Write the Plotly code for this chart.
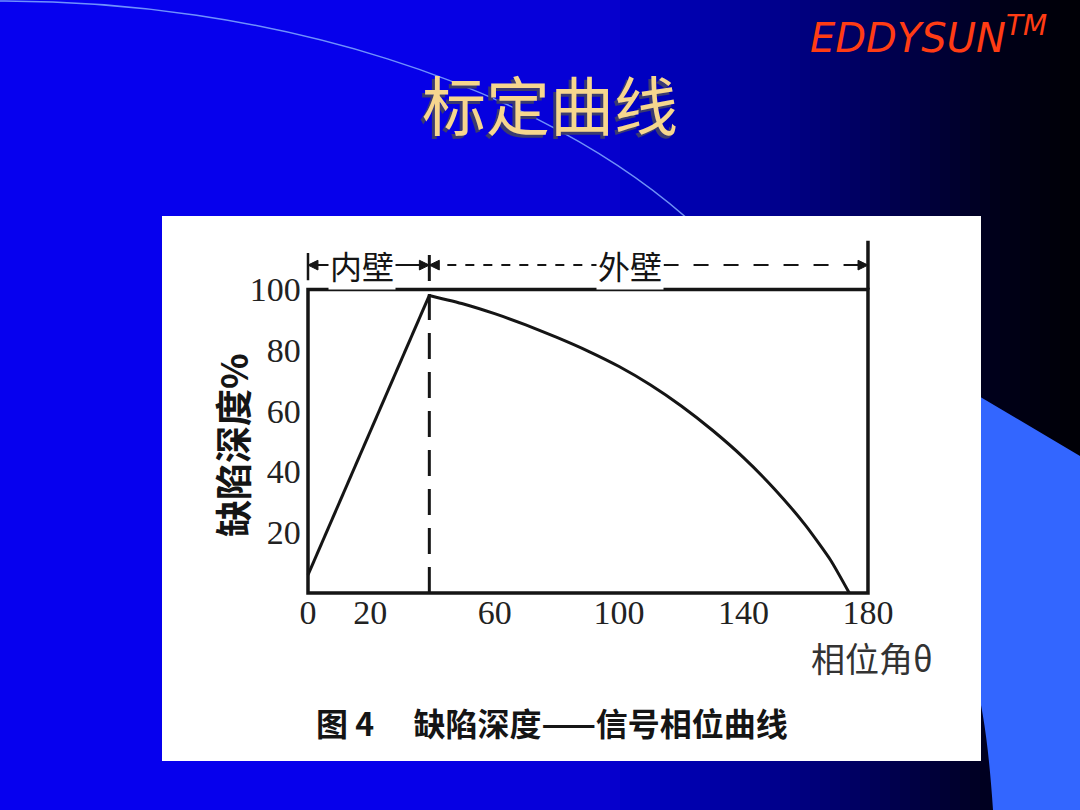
import numpy as np
import plotly.graph_objects as go

W, H = 1080, 810

# values
inner_angle = [0, 39]
inner_depth = [6, 98]
outer_angle = [39, 50, 60, 70, 80, 90, 100, 110, 120, 130, 140, 150, 160, 168, 174]
outer_depth = [98, 95.2, 92, 88.3, 84.2, 79.7, 74.6, 68.6, 61.6, 53.6, 44.6, 34.2, 22.2, 10.8, 0]
x_ticks = [0, 20, 60, 100, 140, 180]
y_ticks = [20, 40, 60, 80, 100]
wall_boundary = 39
x_max, y_max = 180, 100

CJK = "Noto Sans CJK SC"
SERIF = "Liberation Serif"
INK = "#151515"

# pixel placement of the axes inside the white panel
X0, XS = 308, 3.111
Y0, YS = 593, 3.036
XR = [-2, 190]
YR = [-2, 122]


def px(x):
    return x / W


def py(y):
    return 1 - y / H


shapes = []

# slide background: horizontal blue -> black gradient
stops_x = [0, 400, 600, 780, 900, 1000, 1080]
stops_b = [240, 235, 210, 140, 75, 25, 5]
step = 10
for left in range(0, W, step):
    b = int(np.interp(left + step / 2, stops_x, stops_b))
    r = 6 if b > 200 else 0
    shapes.append(dict(type="rect", xref="paper", yref="paper", layer="below",
                       x0=px(left), x1=px(left + step + 1), y0=0, y1=1,
                       line=dict(width=0), fillcolor=f"rgb({r},0,{b})"))

# light-blue decoration on the right
shapes.append(dict(type="path", xref="paper", yref="paper", layer="below",
                   path=(f"M {px(950)},{py(379)} L {px(1080)},{py(456)} L {px(1080)},{py(810)} "
                         f"L {px(993)},{py(810)} Q {px(987)},{py(720)} {px(975)},{py(680)} Z"),
                   line=dict(width=0), fillcolor="#3366FF"))

# thin arc across the title
shapes.append(dict(type="path", xref="paper", yref="paper", layer="below",
                   path=(f"M {px(0)},{py(1)} C {px(260)},{py(0)} {px(540)},{py(80)} "
                         f"{px(700)},{py(230)}"),
                   line=dict(color="rgba(130,170,255,0.85)", width=1.5)))

# white panel holding the scanned figure
shapes.append(dict(type="rect", xref="paper", yref="paper", layer="below",
                   x0=px(162), x1=px(981), y0=py(761), y1=py(216),
                   line=dict(width=0), fillcolor="white"))

# chart frame and wall markers (data coords)
frame = dict(color=INK, width=3.5)
arrow_y = 108
shapes += [
    dict(type="rect", xref="x", yref="y", x0=0, x1=x_max, y0=0, y1=y_max, line=frame),
    dict(type="line", xref="x", yref="y", x0=x_max, x1=x_max, y0=y_max, y1=116, line=frame),
    dict(type="line", xref="x", yref="y", x0=0, x1=0, y0=103, y1=112, line=dict(color=INK, width=2.5)),
    dict(type="line", xref="x", yref="y", x0=wall_boundary, x1=wall_boundary, y0=0, y1=115,
         line=dict(color=INK, width=3, dash="26px,13px")),
    dict(type="line", xref="x", yref="y", x0=0, x1=wall_boundary, y0=arrow_y, y1=arrow_y,
         line=dict(color=INK, width=2)),
    dict(type="line", xref="x", yref="y", x0=wall_boundary, x1=95, y0=arrow_y, y1=arrow_y,
         line=dict(color=INK, width=2, dash="dash")),
    dict(type="line", xref="x", yref="y", x0=95, x1=x_max, y0=arrow_y, y1=arrow_y,
         line=dict(color=INK, width=2, dash="longdash")),
]
# arrow heads as small triangles (tip, direction)
for tip, d in [(0, 1), (wall_boundary, -1), (wall_boundary, 1), (x_max, -1)]:
    base = tip + d * 3.2
    shapes.append(dict(type="path", xref="x", yref="y",
                       path=f"M {tip},{arrow_y} L {base},{arrow_y + 1.6} L {base},{arrow_y - 1.6} Z",
                       line=dict(color=INK, width=1), fillcolor=INK))

fig = go.Figure()
fig.add_trace(go.Scatter(x=inner_angle, y=inner_depth, mode="lines",
                         line=dict(color=INK, width=3), showlegend=False, hoverinfo="skip"))
fig.add_trace(go.Scatter(x=outer_angle, y=outer_depth, mode="lines",
                         line=dict(color=INK, width=3, shape="spline", smoothing=0.5),
                         showlegend=False, hoverinfo="skip"))

annotations = [
    # title with shadow
    dict(x=px(547), y=py(105), text="标定曲线", font=dict(family=CJK, size=64, color="#3b3b70")),
    dict(x=px(550), y=py(102), text="标定曲线", font=dict(family=CJK, size=64, color="#F6D68E")),
    dict(x=px(928), y=py(35), text="EDDYSUN<sup>TM</sup>",
         font=dict(family="DejaVu Sans", size=40, color="#FF3C14", style="italic")),
    # axis titles and caption
    dict(x=px(232), y=py(445), text="缺陷深度%", textangle=-90,
         font=dict(family=CJK, size=37, color=INK, weight="bold")),
    dict(x=px(872), y=py(657), text="相位角θ", font=dict(family=CJK, size=34, color="#333")),
    dict(x=px(552), y=py(722), text="<b>图 4　 缺陷深度——信号相位曲线</b>",
         font=dict(family=CJK, size=32, color=INK)),
]
for a in annotations:
    a.update(xref="paper", yref="paper", showarrow=False, xanchor="center", yanchor="middle")

# wall labels on the arrow line
for label, xc in [("内壁", 17.5), ("外壁", 103.5)]:
    annotations.append(dict(x=xc, y=arrow_y, xref="x", yref="y", text=label, showarrow=False,
                            bgcolor="white", font=dict(family=CJK, size=32, color=INK)))

dom_x = [px(X0 + XR[0] * XS), px(X0 + XR[1] * XS)]
dom_y = [py(Y0 - YR[0] * YS), py(Y0 - YR[1] * YS)]

tick_font = dict(family=SERIF, size=34, color="#222")
fig.update_layout(
    width=W, height=H,
    margin=dict(l=0, r=0, t=0, b=0),
    paper_bgcolor="#0000C8",
    plot_bgcolor="rgba(0,0,0,0)",
    shapes=shapes,
    annotations=annotations,
    xaxis=dict(domain=dom_x, range=XR, tickvals=x_ticks, ticktext=[str(v) for v in x_ticks],
               showgrid=False, zeroline=False, showline=False, ticks="", automargin=False,
               ticklabelstandoff=-10, tickfont=tick_font, fixedrange=True),
    yaxis=dict(domain=dom_y, range=YR, tickvals=y_ticks, ticktext=[str(v) for v in y_ticks],
               showgrid=False, zeroline=False, showline=False, ticks="", automargin=False,
               tickfont=tick_font, fixedrange=True),
)

fig.write_html("out.html", config={"displayModeBar": False},
               post_script="document.body.style.margin='0';")
